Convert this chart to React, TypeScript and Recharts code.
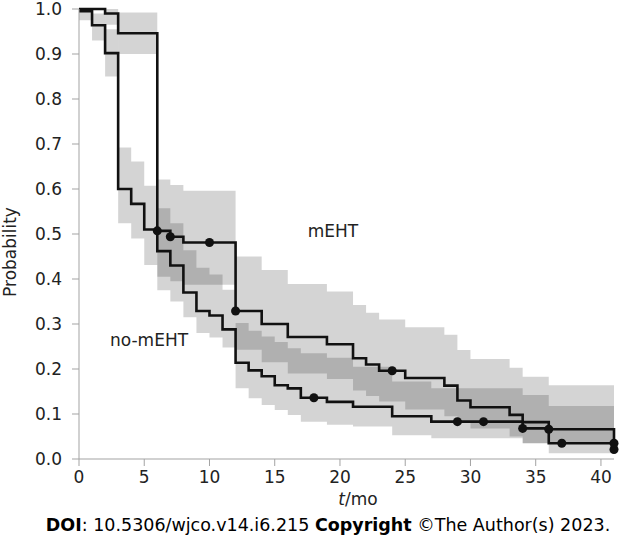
import React from "react";
import { ComposedChart, Area, Line, Scatter, XAxis, YAxis } from "recharts";

// mEHT group: step times (months), survival, CI bounds
const mTimes = [0, 2, 3, 6, 7, 8, 12, 14, 16, 19, 21, 22, 23, 25, 28, 29, 30, 33, 34, 36, 41];
const mSurv = [1.0, 0.99, 0.946, 0.507, 0.494, 0.481, 0.329, 0.3, 0.271, 0.255, 0.224, 0.21, 0.196, 0.18, 0.163, 0.13, 0.115, 0.098, 0.082, 0.066, 0.021];
const mLow = [1.0, 0.965, 0.9, 0.405, 0.395, 0.387, 0.243, 0.215, 0.19, 0.178, 0.152, 0.14, 0.128, 0.11, 0.095, 0.08, 0.068, 0.05, 0.035, 0.035, 0.035];
const mHigh = [1.0, 1.0, 0.992, 0.621, 0.609, 0.596, 0.45, 0.42, 0.389, 0.372, 0.342, 0.325, 0.31, 0.293, 0.276, 0.242, 0.222, 0.203, 0.183, 0.164, 0.164];
const mCensored = [6, 7, 10, 12, 24, 36, 41];

// no-mEHT group
const nTimes = [0, 1, 2, 3, 4, 5, 6, 7, 8, 9, 10, 11, 12, 13, 14, 15, 16, 17, 19, 21, 24, 27, 34, 36, 41];
const nSurv = [0.995, 0.964, 0.902, 0.6, 0.567, 0.51, 0.462, 0.43, 0.37, 0.329, 0.319, 0.288, 0.214, 0.197, 0.184, 0.164, 0.157, 0.136, 0.127, 0.116, 0.095, 0.083, 0.068, 0.035, 0.035];
const nLow = [0.975, 0.93, 0.85, 0.524, 0.49, 0.431, 0.375, 0.35, 0.315, 0.28, 0.27, 0.248, 0.157, 0.135, 0.12, 0.109, 0.098, 0.083, 0.076, 0.072, 0.053, 0.046, 0.035, 0.0126, 0.0126];
const nHigh = [1.0, 0.99, 0.955, 0.692, 0.661, 0.607, 0.557, 0.524, 0.464, 0.425, 0.41, 0.376, 0.302, 0.285, 0.272, 0.26, 0.246, 0.235, 0.225, 0.205, 0.172, 0.157, 0.142, 0.118, 0.118];
const nCensored = [18, 29, 31, 34, 37, 41];

const xTicks = [0, 5, 10, 15, 20, 25, 30, 35, 40];
const yTicks = [0, 0.1, 0.2, 0.3, 0.4, 0.5, 0.6, 0.7, 0.8, 0.9, 1.0];

// value of a step function at time t
function stepAt(times: number[], vals: number[], t: number) {
  let v = vals[0];
  for (let i = 0; i < times.length; i++) if (times[i] <= t) v = vals[i];
  return v;
}

const allTimes = Array.from(new Set([...mTimes, ...nTimes])).sort((a, b) => a - b);
const rows = allTimes.map(t => ({
  t,
  m: stepAt(mTimes, mSurv, t),
  mBand: [stepAt(mTimes, mLow, t), stepAt(mTimes, mHigh, t)],
  n: stepAt(nTimes, nSurv, t),
  nBand: [stepAt(nTimes, nLow, t), stepAt(nTimes, nHigh, t)],
}));
const mDots = mCensored.map(t => ({ t, v: stepAt(mTimes, mSurv, t) }));
const nDots = nCensored.map(t => ({ t, v: stepAt(nTimes, nSurv, t) }));

const font = "'DejaVu Sans', Verdana, sans-serif";
const tickStyle = { fontSize: 17, fill: "#222", fontFamily: font };
const axisGray = "#a3a3a3";

export default function App() {
  return (
    <div style={{ position: "relative", width: 622, height: 542, background: "#fff", fontFamily: font, color: "#222" }}>
      <style>{`body{margin:0}`}</style>
      <ComposedChart width={622} height={542} data={rows} margin={{ top: 9, right: 8, bottom: 53, left: 19 }}>
        <XAxis
          dataKey="t" type="number" domain={[0, 41]} ticks={xTicks} interval={0}
          stroke={axisGray} tickSize={7} tickMargin={5} tick={tickStyle} height={30}
        />
        <YAxis
          type="number" domain={[0, 1]} ticks={yTicks} interval={0}
          tickFormatter={(v: number) => v.toFixed(1)}
          stroke={axisGray} tickSize={7} tickMargin={10} tick={tickStyle} width={60}
        />
        <Area dataKey="mBand" type="stepAfter" fill="#000" fillOpacity={0.17} stroke="none" isAnimationActive={false} />
        <Area dataKey="nBand" type="stepAfter" fill="#000" fillOpacity={0.17} stroke="none" isAnimationActive={false} />
        <Line dataKey="m" type="stepAfter" stroke="#111" strokeWidth={2.6} dot={false} isAnimationActive={false} />
        <Line dataKey="n" type="stepAfter" stroke="#111" strokeWidth={2.6} dot={false} isAnimationActive={false} />
        <Scatter data={mDots} dataKey="v" fill="#111" isAnimationActive={false} />
        <Scatter data={nDots} dataKey="v" fill="#111" isAnimationActive={false} />
      </ComposedChart>

      <div style={{ position: "absolute", left: 333, top: 231, transform: "translate(-50%,-50%)", fontSize: 17, lineHeight: 1 }}>mEHT</div>
      <div style={{ position: "absolute", left: 149, top: 340, transform: "translate(-50%,-50%)", fontSize: 17, lineHeight: 1 }}>no-mEHT</div>
      <div style={{ position: "absolute", left: 10, top: 252, transform: "translate(-50%,-50%) rotate(-90deg)", fontSize: 17, lineHeight: 1, whiteSpace: "nowrap" }}>Probability</div>
      <div style={{ position: "absolute", left: 358, top: 499, transform: "translate(-50%,-50%)", fontSize: 17, lineHeight: 1 }}>
        <i>t</i>/mo
      </div>
      <div style={{ position: "absolute", left: 328, top: 526, transform: "translate(-50%,-50%)", fontSize: 17.5, lineHeight: 1, whiteSpace: "nowrap", color: "#000" }}>
        <b>DOI</b>: 10.5306/wjco.v14.i6.215 <b>Copyright</b> ©The Author(s) 2023.
      </div>
    </div>
  );
}
